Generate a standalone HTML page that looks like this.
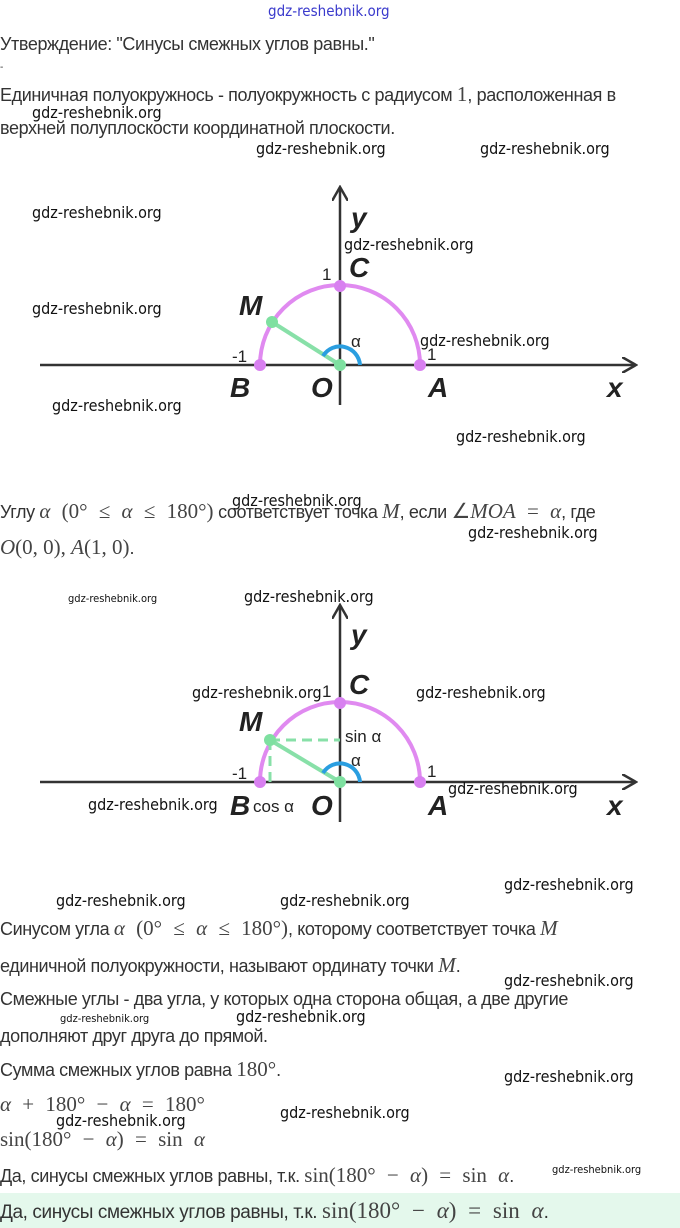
<!DOCTYPE html>
<html><head><meta charset="utf-8"><style>
body{margin:0;width:680px;height:1228px;background:#fff;position:relative;overflow:hidden;font-family:"Liberation Sans",sans-serif;color:#333}
.t{position:absolute;left:0;font-size:18px;white-space:nowrap;letter-spacing:-0.4px}
.m{font-family:"Liberation Serif",serif;font-size:21px;color:#444;word-spacing:6px;letter-spacing:0}
.w{position:absolute;font-size:16px;color:#111;white-space:nowrap;font-family:"DejaVu Sans Condensed","Liberation Sans Narrow","Liberation Sans",sans-serif}
.s{font-size:11px}
</style></head><body>
<div class="w" style="left:268px;top:2px;color:#3a3acc;font-size:15px">gdz-reshebnik.org</div>
<div class="t" style="top:34px">Утверждение: "Синусы смежных углов равны."</div>
<div class="t" style="top:62px;font-size:10px">-</div>
<div class="t" style="top:82px">Единичная полуокружнось - полуокружность с радиусом <span class="m">1</span>, расположенная в</div>
<div class="t" style="top:118px">верхней полуплоскости координатной плоскости.</div>
<div class="w" style="left:32px;top:103px">gdz-reshebnik.org</div>
<div class="w" style="left:256px;top:139px">gdz-reshebnik.org</div>
<div class="w" style="left:480px;top:139px">gdz-reshebnik.org</div>

<svg style="position:absolute;left:0;top:0" width="680" height="900">
<defs><marker id="ar" markerWidth="16" markerHeight="16" refX="14" refY="8" orient="auto" markerUnits="userSpaceOnUse"><path d="M0,0 L14,8 L0,16" fill="none" stroke="#333" stroke-width="2.5"/></marker></defs>
<g stroke="#333" stroke-width="2.5">
<line x1="40" y1="365" x2="636" y2="365" marker-end="url(#ar)"/>
<line x1="340" y1="405" x2="340" y2="187" marker-end="url(#ar)"/>
<line x1="40" y1="782" x2="636" y2="782" marker-end="url(#ar)"/>
<line x1="340" y1="822" x2="340" y2="605" marker-end="url(#ar)"/>
</g>
<path d="M260,365 A80,80 0 0 1 420,365" fill="none" stroke="#e08af0" stroke-width="4"/>
<path d="M260,782 A80,80 0 0 1 420,782" fill="none" stroke="#e08af0" stroke-width="4"/>
<line x1="340" y1="365" x2="272" y2="322" stroke="#88e0a8" stroke-width="4"/>
<line x1="340" y1="782" x2="270" y2="740" stroke="#88e0a8" stroke-width="4"/>
<line x1="270" y1="740" x2="340" y2="740" stroke="#88e0a8" stroke-width="3" stroke-dasharray="10,6"/>
<line x1="270" y1="740" x2="270" y2="782" stroke="#88e0a8" stroke-width="3" stroke-dasharray="10,6"/>
<path d="M323,356 A20,20 0 0 1 360,365" fill="none" stroke="#2a9ee0" stroke-width="4"/>
<path d="M323,773 A20,20 0 0 1 360,782" fill="none" stroke="#2a9ee0" stroke-width="4"/>
<g fill="#d880f0"><circle cx="260" cy="365" r="6"/><circle cx="420" cy="365" r="6"/><circle cx="340" cy="286" r="6"/>
<circle cx="260" cy="782" r="6"/><circle cx="420" cy="782" r="6"/><circle cx="340" cy="703" r="6"/></g>
<g fill="#7ee0a0"><circle cx="272" cy="322" r="6"/><circle cx="340" cy="365" r="6"/><circle cx="270" cy="740" r="6"/><circle cx="340" cy="782" r="6"/></g>
<g font-family="Liberation Sans,sans-serif" font-style="italic" font-weight="bold" font-size="28" fill="#222">
<text x="351" y="227">y</text><text x="349" y="277">C</text><text x="239" y="315">M</text><text x="230" y="397">B</text><text x="311" y="397">O</text><text x="428" y="397">A</text><text x="607" y="397">x</text>
<text x="351" y="644">y</text><text x="349" y="694">C</text><text x="239" y="731">M</text><text x="230" y="815">B</text><text x="311" y="815">O</text><text x="428" y="815">A</text><text x="607" y="815">x</text>
</g>
<g font-family="Liberation Sans,sans-serif" font-size="17" fill="#222">
<text x="322" y="280">1</text><text x="232" y="362">-1</text><text x="427" y="360">1</text><text x="351" y="347">α</text>
<text x="322" y="697">1</text><text x="232" y="779">-1</text><text x="427" y="777">1</text><text x="351" y="766">α</text>
<text x="345" y="742">sin α</text><text x="253" y="812">cos α</text>
</g>
</svg>
<div class="w" style="left:32px;top:203px">gdz-reshebnik.org</div>
<div class="w" style="left:344px;top:235px">gdz-reshebnik.org</div>
<div class="w" style="left:32px;top:299px">gdz-reshebnik.org</div>
<div class="w" style="left:420px;top:331px">gdz-reshebnik.org</div>
<div class="w" style="left:52px;top:396px">gdz-reshebnik.org</div>
<div class="w" style="left:456px;top:427px">gdz-reshebnik.org</div>

<div class="t" style="top:499px">Углу <span class="m"><i>α</i> (0° ≤ <i>α</i> ≤ 180°)</span> соответствует точка <span class="m"><i>M</i></span>, если <span class="m">∠<i>MOA</i> = <i>α</i></span>, где</div>
<div class="t" style="top:535px"><span class="m" style="word-spacing:0"><i>O</i>(0, 0), <i>A</i>(1, 0)</span>.</div>
<div class="w" style="left:232px;top:491px">gdz-reshebnik.org</div>
<div class="w" style="left:468px;top:523px">gdz-reshebnik.org</div>
<div class="w s" style="left:68px;top:592px">gdz-reshebnik.org</div>
<div class="w" style="left:244px;top:587px">gdz-reshebnik.org</div>
<div class="w" style="left:192px;top:683px">gdz-reshebnik.org</div>
<div class="w" style="left:416px;top:683px">gdz-reshebnik.org</div>
<div class="w" style="left:88px;top:795px">gdz-reshebnik.org</div>
<div class="w" style="left:448px;top:779px">gdz-reshebnik.org</div>

<div class="w" style="left:56px;top:891px">gdz-reshebnik.org</div>
<div class="w" style="left:280px;top:891px">gdz-reshebnik.org</div>
<div class="w" style="left:504px;top:875px">gdz-reshebnik.org</div>
<div class="t" style="top:916px">Синусом угла <span class="m"><i>α</i> (0° ≤ <i>α</i> ≤ 180°)</span>, которому соответствует точка <span class="m"><i>M</i></span></div>
<div class="t" style="top:953px">единичной полуокружности, называют ординату точки <span class="m"><i>M</i></span>.</div>
<div class="w" style="left:504px;top:971px">gdz-reshebnik.org</div>
<div class="t" style="top:989px">Смежные углы - два угла, у которых одна сторона общая, а две другие</div>
<div class="w s" style="left:60px;top:1012px">gdz-reshebnik.org</div>
<div class="w" style="left:236px;top:1007px">gdz-reshebnik.org</div>
<div class="t" style="top:1026px">дополняют друг друга до прямой.</div>
<div class="t" style="top:1057px">Сумма смежных углов равна <span class="m">180°</span>.</div>
<div class="w" style="left:504px;top:1067px">gdz-reshebnik.org</div>
<div class="t m" style="top:1092px"><i>α</i> + 180° − <i>α</i> = 180°</div>
<div class="w" style="left:56px;top:1111px">gdz-reshebnik.org</div>
<div class="w" style="left:280px;top:1103px">gdz-reshebnik.org</div>
<div class="t m" style="top:1127px">sin(180° − <i>α</i>) = sin <i>α</i></div>
<div class="t" style="top:1163px">Да, синусы смежных углов равны, т.к. <span class="m">sin(180° − <i>α</i>) = sin <i>α</i></span>.</div>
<div class="w s" style="left:552px;top:1163px">gdz-reshebnik.org</div>
<div style="position:absolute;left:0;top:1193px;width:680px;height:35px;background:#e4f8ec"></div>
<div class="t" style="top:1198px;font-size:19px">Да, синусы смежных углов равны, т.к. <span class="m" style="font-size:23px">sin(180° − <i>α</i>) = sin <i>α</i></span>.</div>
</body></html>
